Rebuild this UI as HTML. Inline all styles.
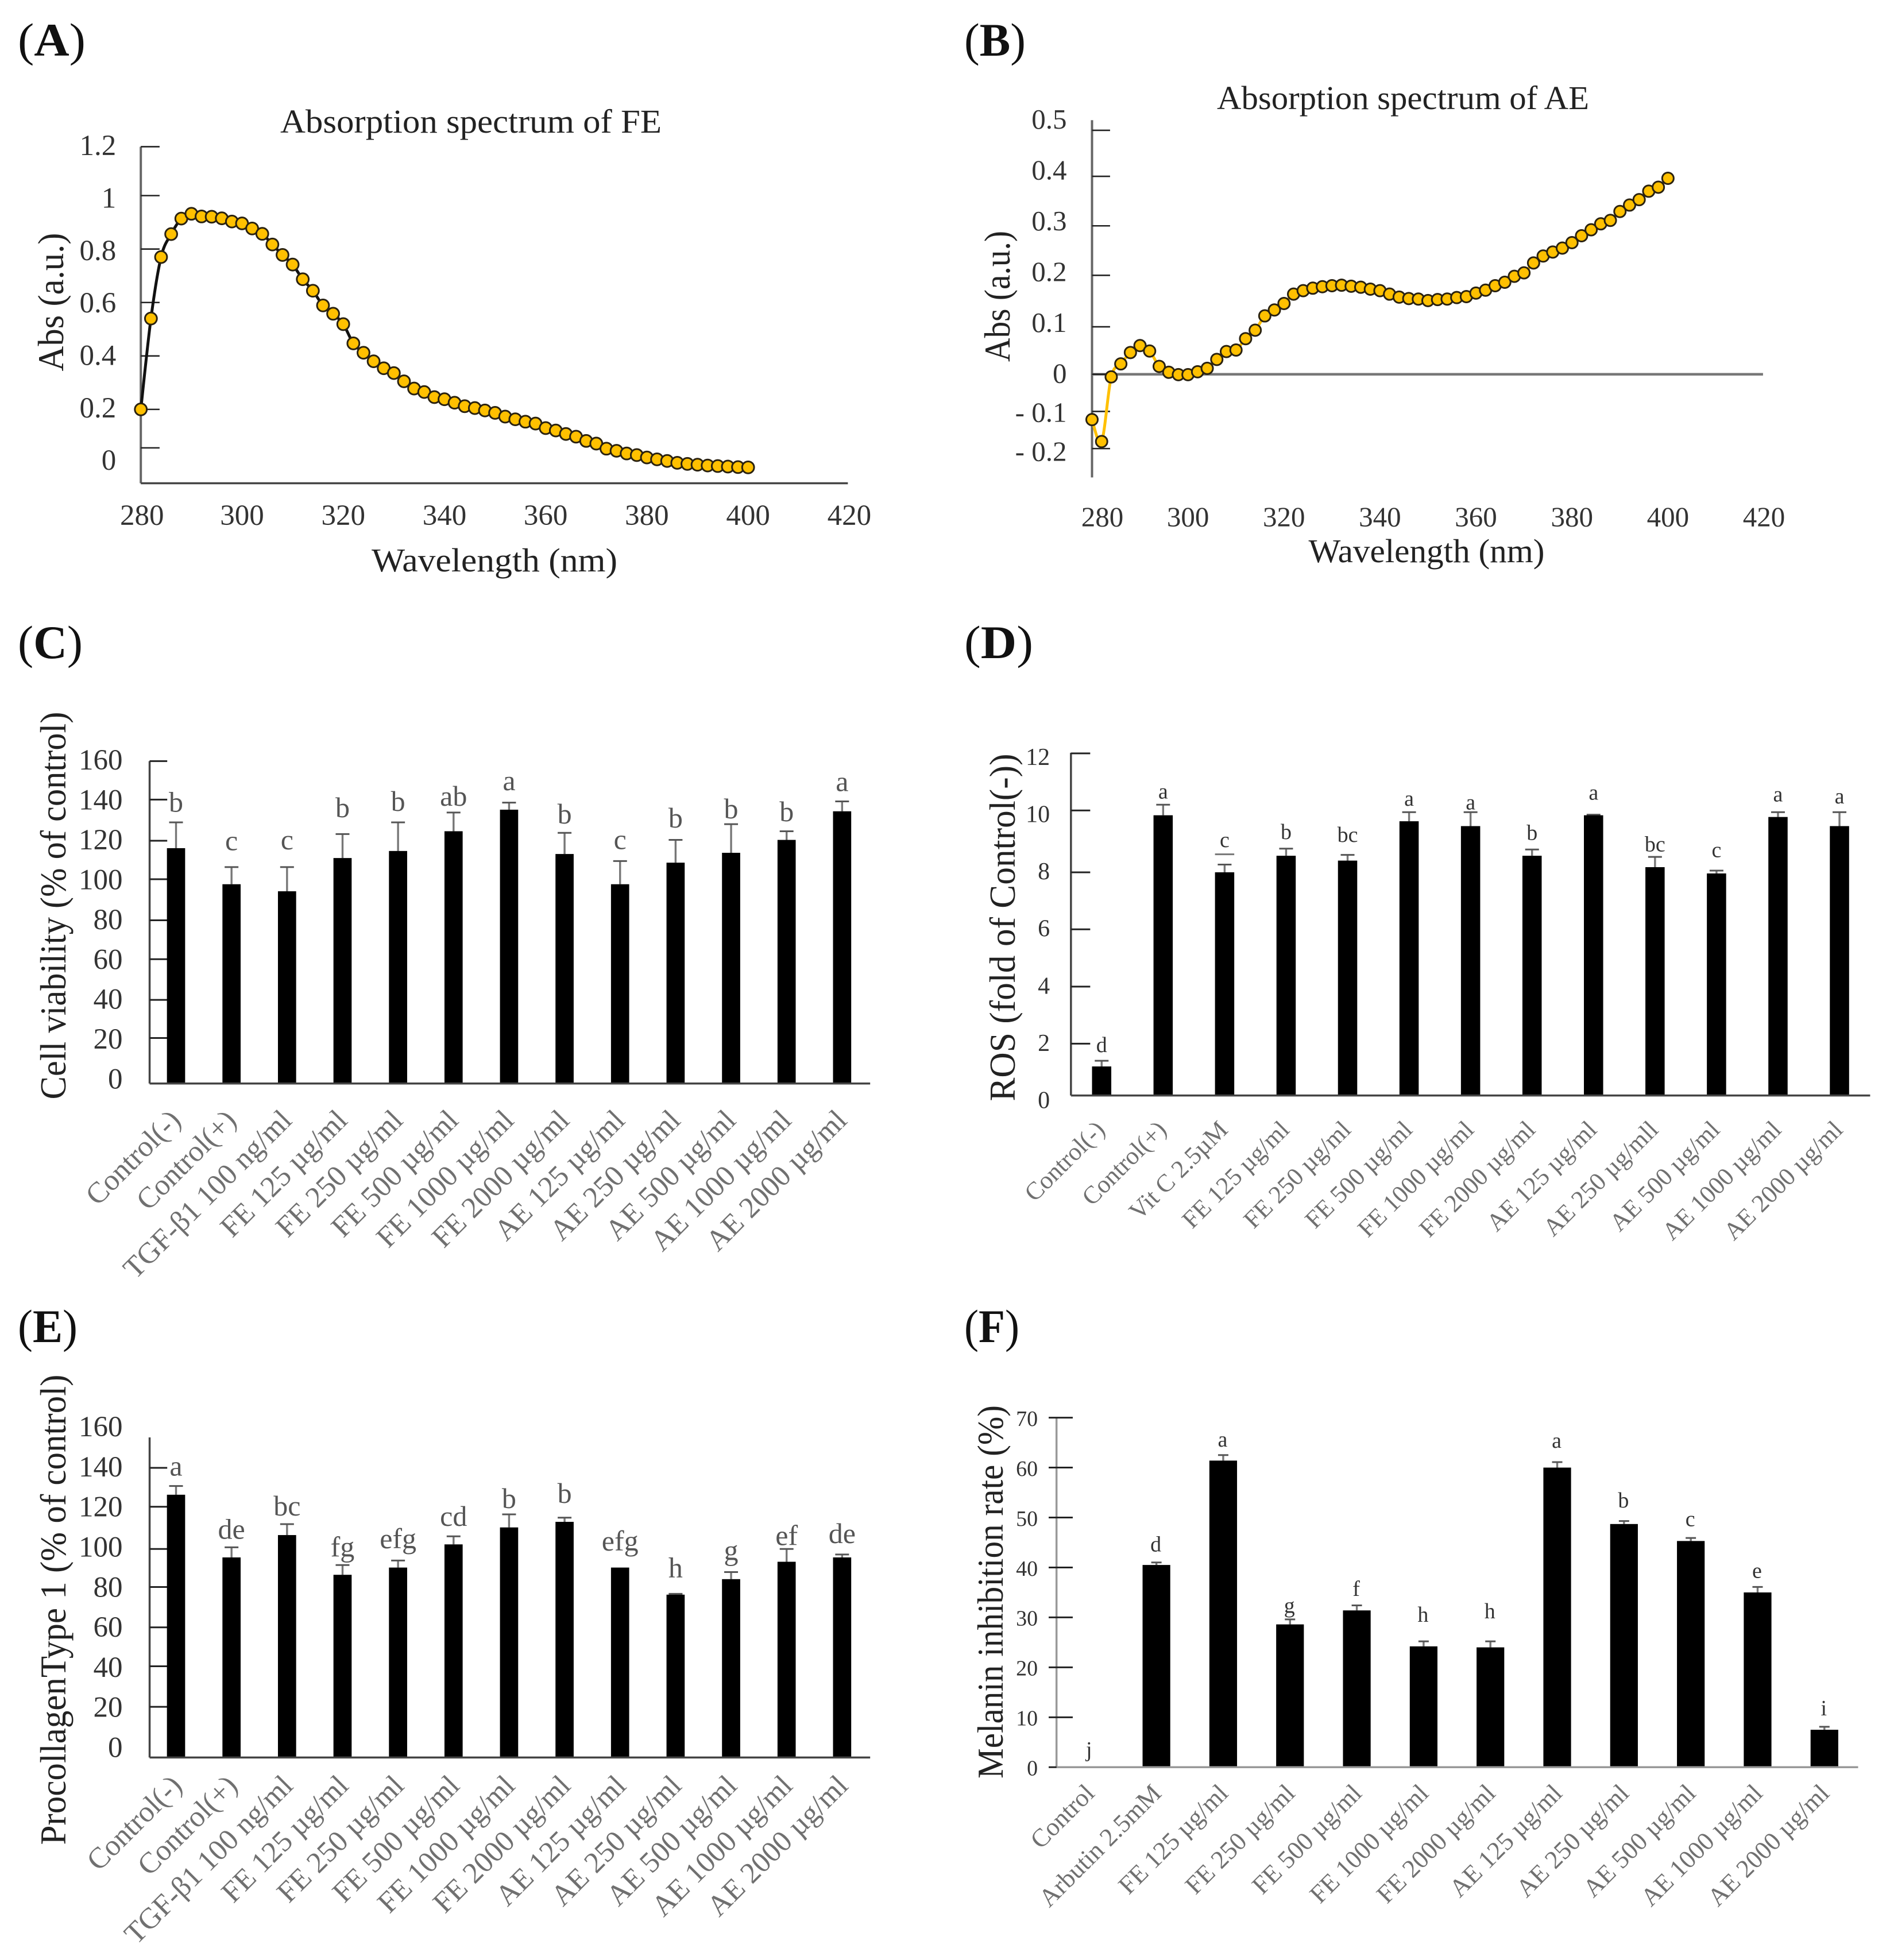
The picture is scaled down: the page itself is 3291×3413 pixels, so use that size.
<!DOCTYPE html>
<html lang="en">
<head>
<meta charset="utf-8">
<title>Absorption spectra and bioactivity of FE and AE</title>
<style>
html,body{margin:0;padding:0;background:#fff}
svg{display:block;font-family:"Liberation Serif","DejaVu Serif",serif}
</style>
</head>
<body>
<svg id="figure" xmlns="http://www.w3.org/2000/svg" width="3291" height="3413" viewBox="0 0 3291 3413">
<rect width="3291" height="3413" fill="#fff"/>
<g fill="#111" font-size="82">
<text x="31" y="97" textLength="118" lengthAdjust="spacingAndGlyphs">(<tspan font-weight="bold">A</tspan>)</text>
<text x="1679" y="97" textLength="107" lengthAdjust="spacingAndGlyphs">(<tspan font-weight="bold">B</tspan>)</text>
<text x="31" y="1146" textLength="113" lengthAdjust="spacingAndGlyphs">(<tspan font-weight="bold">C</tspan>)</text>
<text x="1679" y="1146" textLength="120" lengthAdjust="spacingAndGlyphs">(<tspan font-weight="bold">D</tspan>)</text>
<text x="31" y="2337" textLength="104" lengthAdjust="spacingAndGlyphs">(<tspan font-weight="bold">E</tspan>)</text>
<text x="1679" y="2337" textLength="96" lengthAdjust="spacingAndGlyphs">(<tspan font-weight="bold">F</tspan>)</text>
</g>
<g fill="#222" font-size="58" text-anchor="middle">
<text x="820" y="231" textLength="664" lengthAdjust="spacingAndGlyphs">Absorption spectrum of FE</text>
<text x="2443" y="190" textLength="648" lengthAdjust="spacingAndGlyphs">Absorption spectrum of AE</text>
<text x="861" y="995" textLength="428" lengthAdjust="spacingAndGlyphs">Wavelength (nm)</text>
<text x="2484" y="979" textLength="411" lengthAdjust="spacingAndGlyphs">Wavelength (nm)</text>
</g>
<g fill="#222" font-size="60" text-anchor="middle">
<text transform="translate(110 526) rotate(-90) scale(1 1.06)" textLength="241" lengthAdjust="spacingAndGlyphs">Abs (a.u.)</text>
<text transform="translate(1758 516) rotate(-90) scale(1 1.06)" textLength="228" lengthAdjust="spacingAndGlyphs">Abs (a.u.)</text>
<text transform="translate(114 1577) rotate(-90) scale(1 1.06)" textLength="675" lengthAdjust="spacingAndGlyphs">Cell viability (% of control)</text>
<text transform="translate(1767 1615) rotate(-90) scale(1 1.06)" textLength="605" lengthAdjust="spacingAndGlyphs">ROS (fold of Control(-))</text>
<text transform="translate(114 2803) rotate(-90) scale(1 1.06)" textLength="819" lengthAdjust="spacingAndGlyphs">ProcollagenType 1 (% of control)</text>
<text transform="translate(1746 2772) rotate(-90) scale(1 1.06)" textLength="650" lengthAdjust="spacingAndGlyphs">Melanin inhibition rate (%)</text>
</g>
</svg>
<script>
/* ---------- Spectra data ---------- */
const wavelengths = [280,282,284,286,288,290,292,294,296,298,300,302,304,306,308,310,312,314,316,318,320,322,324,326,328,330,332,334,336,338,340,342,344,346,348,350,352,354,356,358,360,362,364,366,368,370,372,374,376,378,380,382,384,386,388,390,392,394,396,398,400];
const feAbs = [0.2,0.54,0.77,0.856,0.914,0.932,0.922,0.921,0.915,0.903,0.896,0.877,0.857,0.817,0.778,0.742,0.687,0.644,0.589,0.558,0.519,0.447,0.412,0.38,0.354,0.336,0.305,0.278,0.265,0.246,0.238,0.225,0.212,0.205,0.196,0.187,0.173,0.163,0.154,0.147,0.13,0.121,0.108,0.098,0.082,0.072,0.053,0.045,0.035,0.029,0.02,0.013,0.007,0,-0.004,-0.007,-0.01,-0.012,-0.014,-0.016,-0.017];
const aeAbs = [-0.122,-0.181,-0.007,0.021,0.044,0.058,0.047,0.016,0.004,-0.001,-0.001,0.005,0.012,0.03,0.046,0.049,0.072,0.089,0.118,0.13,0.143,0.162,0.169,0.174,0.177,0.179,0.18,0.178,0.176,0.172,0.169,0.162,0.156,0.153,0.152,0.149,0.151,0.152,0.155,0.157,0.164,0.17,0.179,0.186,0.198,0.205,0.225,0.239,0.247,0.255,0.266,0.28,0.292,0.304,0.311,0.329,0.342,0.353,0.37,0.378,0.396];
const xTickLabels = [280,300,320,340,360,380,400,420];
const aTickLabels = ['1.2','1','0.8','0.6','0.4','0.2','0'];
const aTickLabelValues = [1.2,1,0.8,0.6,0.4,0.2,0];
const aTickMarks = [1.183,1,0.8,0.6,0.4,0.2,0.056];
const bTickLabels = ['0.5','0.4','0.3','0.2','0.1','0','- 0.1','- 0.2'];
const bTickLabelValues = [0.5,0.4,0.3,0.2,0.1,0,-0.1,-0.2];
const bTickMarks = [0.493,0.4,0.3,0.2,0.096,0,-0.1,-0.2];

/* ---------- Panel C data ---------- */
const cCategories = ['Control(-)','Control(+)','TGF-β1 100 ng/ml','FE 125 µg/ml','FE 250 µg/ml','FE 500 µg/ml','FE 1000 µg/ml','FE 2000 µg/ml','AE 125 µg/ml','AE 250 µg/ml','AE 500 µg/ml','AE 1000 µg/ml','AE 2000 µg/ml'];
const cValues = [116.8,98.9,95.4,111.9,115.4,125.2,135.9,113.9,98.9,109.6,114.5,120.9,135.1];
const cErrors = [12.8,8.5,12,11.9,14.2,9.3,3.5,10.5,11.5,11.3,14.2,4.3,4.9];
const cLetters = ['b','c','c','b','b','ab','a','b','c','b','b','b','a'];
const cLetterGaps = [5.3,8.4,8.8,8.4,5.7,3.3,6.2,4.7,6,6.2,2.9,5,5.2];
const cTickLabels = [160,140,120,100,80,60,40,20,0];
const cTickMarks = [160,140.9,120.5,101.4,81,61.7,41.5,22.6];

/* ---------- Panel D data ---------- */
const dCategories = ['Control(-)','Control(+)','Vit C 2.5µM','FE 125 µg/ml','FE 250 µg/ml','FE 500 µg/ml','FE 1000 µg/ml','FE 2000 µg/ml','AE 125 µg/ml','AE 250 µg/mll','AE 500 µg/ml','AE 1000 µg/ml','AE 2000 µg/ml'];
const dValues = [1.02,9.83,7.83,8.41,8.24,9.62,9.45,8.41,9.83,8.01,7.79,9.77,9.45];
const dErrors = [0.2,0.37,0.27,0.25,0.2,0.32,0.49,0.22,0.02,0.36,0.1,0.17,0.49];
const dLetters = ['d','a','c','b','bc','a','a','b','a','bc','c','a','a'];
const dLetterGaps = [0.3,0.22,0.62,0.34,0.46,0.23,0.09,0.34,0.53,0.19,0.47,0.38,0.31];
const dTickLabels = [12,10,8,6,4,2,0];
const dTickMarks = [12,10,7.83,5.83,3.82,1.82];
const dStrayCapCategory = [2];
const dStrayCapValue = [8.46];

/* ---------- Panel E data ---------- */
const eCategories = ['Control(-)','Control(+)','TGF-β1 100 ng/ml','FE 125 µg/ml','FE 250 µg/ml','FE 500 µg/ml','FE 1000 µg/ml','FE 2000 µg/ml','AE 125 µg/ml','AE 250 µg/ml','AE 500 µg/ml','AE 1000 µg/ml','AE 2000 µg/ml'];
const eValues = [127,96.7,107.5,88.3,91.8,103,111.2,113.9,91.8,78.7,86.2,94.6,96.7];
const eErrors = [4.2,4.9,5.3,4.7,3.4,3.9,6.3,2,0,0.4,3.4,6.2,1.4];
const eLetters = ['a','de','bc','fg','efg','cd','b','b','efg','h','g','ef','de'];
const eLetterGaps = [5.1,4.1,4.1,4.1,6,5,3.1,7.1,8.2,8,5.8,1.8,5.5];
const eTickLabels = [160,140,120,100,80,60,40,20,0];
const eTickMarks = [140,121.2,100.8,82.4,62.9,44.1,24.5];

/* ---------- Panel F data ---------- */
const fCategories = ['Control','Arbutin 2.5mM','FE 125 µg/ml','FE 250 µg/ml','FE 500 µg/ml','FE 1000 µg/ml','FE 2000 µg/ml','AE 125 µg/ml','AE 250 µg/ml','AE 500 µg/ml','AE 1000 µg/ml','AE 2000 µg/ml'];
const fValues = [0,40.5,61.4,28.6,31.4,24.2,24,60,48.7,45.3,35,7.5];
const fErrors = [0,0.5,1.1,1,1,1,1.2,1.1,0.6,0.6,1.1,0.6];
const fLetters = ['j','d','a','g','f','h','h','a','b','c','e','i'];
const fLetterGaps = [2.1,2.2,1.7,1.3,1.9,3.9,4.6,2.9,2.7,2.4,1.8,2.3];
const fTickLabels = [70,60,50,40,30,20,10,0];
const fTickMarks = [70,60,50,40,30,20,10,0];

/* ---------- Rendering ---------- */
const NS = 'http://www.w3.org/2000/svg';
const root = document.getElementById('figure');

function make(parent, tag, attrs, text) {
  const el = document.createElementNS(NS, tag);
  for (const k in attrs) el.setAttribute(k, attrs[k]);
  if (text !== undefined) el.textContent = text;
  parent.appendChild(el);
  return el;
}
function frame(x0, y0, sx, sy) {
  return { px: z => x0 + z * sx, py: z => y0 + z * sy };
}
function smoothPath(pts) {
  let d = 'M' + pts[0][0].toFixed(1) + ' ' + pts[0][1].toFixed(1);
  for (let i = 0; i < pts.length - 1; i++) {
    const p0 = pts[Math.max(0, i - 1)], p1 = pts[i], p2 = pts[i + 1], p3 = pts[Math.min(pts.length - 1, i + 2)];
    const c1x = p1[0] + (p2[0] - p0[0]) / 6, c1y = p1[1] + (p2[1] - p0[1]) / 6;
    const c2x = p2[0] - (p3[0] - p1[0]) / 6, c2y = p2[1] - (p3[1] - p1[1]) / 6;
    d += ' C' + c1x.toFixed(1) + ' ' + c1y.toFixed(1) + ' ' + c2x.toFixed(1) + ' ' + c2y.toFixed(1) + ' ' + p2[0].toFixed(1) + ' ' + p2[1].toFixed(1);
  }
  return d;
}

function drawSpectrum(o) {
  const F = frame(o.x0, o.y0, o.sx, o.sy);
  const g = make(root, 'g', {});
  
  
  const X = nm => F.px(o.x280 + (nm - 280) * o.perNm);
  const Y = v => F.py(o.zero - (v >= 0 ? o.kPos : o.kNeg) * v);
  const labelY = v => F.py(o.labelZero - (v >= 0 ? o.labelPos : o.labelNeg) * v);

  const vAxis = make(g, 'line', { x1: F.px(o.axisX), x2: F.px(o.axisX), y1: F.py(o.axisTop), y2: F.py(o.axisBottom), stroke: '#666', 'stroke-width': 4 });
  
  
  const hAxis = make(g, 'line', { x1: F.px(o.axisX), x2: F.px(o.axisRight), y1: F.py(o.xAxisZ), y2: F.py(o.xAxisZ), stroke: o.xAxisColor, 'stroke-width': o.xAxisWidth });
  
  

  o.tickMarks.forEach(v => {
    const t = make(g, 'line', { x1: F.px(o.axisX), x2: F.px(o.tickEnd), y1: Y(v), y2: Y(v), stroke: '#222', 'stroke-width': 2.6 });
    
    
  });
  o.tickLabels.forEach((s, i) => {
    const t = make(g, 'text', { x: F.px(o.labelRight), y: labelY(o.tickValues[i]) + o.fs * 0.33, 'text-anchor': 'end', 'font-size': o.fs, fill: '#333' }, s);
    
    
  });
  xTickLabels.forEach((v, i) => {
    const shift = i === 0 ? o.firstLabelShift : 0;
    const t = make(g, 'text', { x: X(v) + shift, y: F.py(o.xLabelZ) + o.fs * 0.33, 'text-anchor': 'middle', 'font-size': o.fs, fill: '#333' }, String(v));
    
    
  });

  const pts = wavelengths.map((nm, i) => [X(nm), Y(o.series[i])]);
  const line = make(g, 'path', { d: smoothPath(pts), fill: 'none', stroke: o.lineColor, 'stroke-width': 5 });
  
  
  pts.forEach(p => {
    const c = make(g, 'circle', { cx: p[0], cy: p[1], r: o.r, fill: '#FFC000', stroke: '#2a2210', 'stroke-width': 3 });
    
    
  });
}

function drawBars(o) {
  const F = frame(o.x0, o.y0, o.sx, o.sy);
  const g = make(root, 'g', {});
  
  
  const X = i => F.px(o.c0 + o.step * i);
  const Y = v => F.py(o.base - o.k * v);
  const labelY = v => F.py(o.labelBase - o.labelK * v);

  const vAxis = make(g, 'line', { x1: F.px(o.axisX), x2: F.px(o.axisX), y1: F.py(o.axisTop), y2: F.py(o.base), stroke: o.axisColor, 'stroke-width': 3.5 });
  
  

  o.tickMarks.forEach(v => {
    const t = make(g, 'line', { x1: F.px(o.tickStart), x2: F.px(o.tickEnd), y1: Y(v), y2: Y(v), stroke: '#222', 'stroke-width': 3 });
    
    
  });
  o.tickLabels.forEach(v => {
    const t = make(g, 'text', { x: F.px(o.labelRight), y: labelY(v) + o.fs * 0.33, 'text-anchor': 'end', 'font-size': o.fs, fill: '#333' }, String(v));
    
    
  });

  o.categories.forEach((name, i) => {
    const cx = X(i);
    const top = Y(o.values[i]);
    const errTop = Y(o.values[i] + o.errors[i]);
    const w = o.bw * o.sx;
    if (o.errors[i] > 0) {
      const stem = make(g, 'line', { x1: cx, x2: cx, y1: top, y2: errTop, stroke: '#777', 'stroke-width': 3.4 });
      
      
      const cap = make(g, 'line', { x1: cx - o.cap, x2: cx + o.cap, y1: errTop, y2: errTop, stroke: '#555', 'stroke-width': 3 });
      
      
    }
    const r = make(g, 'rect', { x: cx - w / 2, y: top, width: w, height: Math.max(0, Y(0) - top), fill: '#000' });
    
    
    const l = make(g, 'text', { x: cx + o.letterDx, y: Y(o.values[i] + o.errors[i] + o.gaps[i]), 'text-anchor': 'middle', 'font-size': o.letterFs, fill: o.letterColor }, o.letters[i]);
    
    
    const ax = cx + o.catDx, ay = Y(0) + o.catDy;
    const c = make(g, 'text', { x: ax, y: ay, transform: 'rotate(-45 ' + ax + ' ' + ay + ')', 'text-anchor': 'end', 'font-size': o.catFs, fill: '#707070' }, name);
    
    
  });

  const hAxis = make(g, 'line', { x1: F.px(o.axisX), x2: F.px(o.right), y1: Y(0), y2: Y(0), stroke: o.axisColor, 'stroke-width': 3.5 });
  
  

  (o.strayCat || []).forEach((cat, i) => {
    const cx = X(cat);
    const s = make(g, 'line', { x1: cx - o.bw * o.sx / 2, x2: cx + o.bw * o.sx / 2, y1: Y(o.strayVal[i]), y2: Y(o.strayVal[i]), stroke: '#777', 'stroke-width': 3 });
    
    
  });
}

drawSpectrum({ name:'absorption-chart-fe', x0:0, y0:0, sx:1.0217, sy:0.6705, x280:240, perNm:8.625, zero:1202, kPos:694, kNeg:694,
  axisX:240, axisTop:381, axisBottom:1255, axisRight:1445, xAxisZ:1255, xAxisColor:'#444', xAxisWidth:3.5, tickEnd:272,
  labelRight:198, labelZero:1195, labelPos:681, labelNeg:681, fs:51, xLabelZ:1338, firstLabelShift:2, lineColor:'#111', r:10.4,
  tickMarks:aTickMarks, tickLabels:aTickLabels, tickValues:aTickLabelValues, series:feAbs });

drawSpectrum({ name:'absorption-chart-ae', x0:1650, y0:0, sx:1.0479, sy:0.6705, x280:240, perNm:7.975, zero:972, kPos:1285, kNeg:965,
  axisX:240, axisTop:312, axisBottom:1240, axisRight:1355, xAxisZ:972, xAxisColor:'#777', xAxisWidth:4.5, tickEnd:270,
  labelRight:198, labelZero:970, labelPos:1320, labelNeg:1015, fs:49, xLabelZ:1343, firstLabelShift:18, lineColor:'#FFC000', r:10,
  tickMarks:bTickMarks, tickLabels:bTickLabels, tickValues:bTickLabelValues, series:aeAbs });

drawBars({ name:'cell-viability-chart', x0:0, y0:1080, sx:1.0217, sy:0.7216, axisX:255, axisTop:340, base:1118, k:4.8625, right:1483,
  tickStart:255, tickEnd:285, c0:300, step:94.6, bw:31, cap:12, labelRight:209, labelBase:1107, labelK:4.8125, fs:51, letterFs:50, letterDx:0, letterColor:'#555',
  catFs:51.5, catDx:11, catDy:67, axisColor:'#444', categories:cCategories, values:cValues, errors:cErrors, letters:cLetters, gaps:cLetterGaps, tickLabels:cTickLabels, tickMarks:cTickMarks });

drawBars({ name:'ros-chart', x0:1650, y0:1080, sx:1.0479, sy:0.7216, axisX:205, axisTop:320, base:1147, k:68.8, right:1533,
  tickStart:205, tickEnd:237, c0:256, step:102.17, bw:32, cap:12, labelRight:170, labelBase:1158, labelK:69, fs:42, letterFs:38, letterDx:0, letterColor:'#333',
  catFs:43.5, catDx:8, catDy:62, axisColor:'#444', categories:dCategories, values:dValues, errors:dErrors, letters:dLetters, gaps:dLetterGaps, tickLabels:dTickLabels, tickMarks:dTickMarks, strayCat:dStrayCapCategory, strayVal:dStrayCapValue });

drawBars({ name:'procollagen-chart', x0:0, y0:2260, sx:1.0217, sy:0.7363, axisX:255, axisTop:330, base:1087, k:4.893, right:1483,
  tickStart:255, tickEnd:285, c0:300, step:94.6, bw:31, cap:12, labelRight:209, labelBase:1063, labelK:4.74, fs:51, letterFs:50, letterDx:0, letterColor:'#555',
  catFs:51.5, catDx:13, catDy:52, axisColor:'#444', categories:eCategories, values:eValues, errors:eErrors, letters:eLetters, gaps:eLetterGaps, tickLabels:eTickLabels, tickMarks:eTickMarks });

drawBars({ name:'melanin-inhibition-chart', x0:1650, y0:2260, sx:1.0479, sy:0.7363, axisX:181, axisTop:283, base:1110, k:11.81, right:1513,
  tickStart:168, tickEnd:208, c0:236, step:111, bw:46, cap:9, labelRight:150, labelBase:1112, labelK:11.8, fs:38, letterFs:38, letterDx:-1, letterColor:'#333',
  catFs:44.5, catDx:11, catDy:48, axisColor:'#999', categories:fCategories, values:fValues, errors:fErrors, letters:fLetters, gaps:fLetterGaps, tickLabels:fTickLabels, tickMarks:fTickMarks });
</script>
</body>
</html>
